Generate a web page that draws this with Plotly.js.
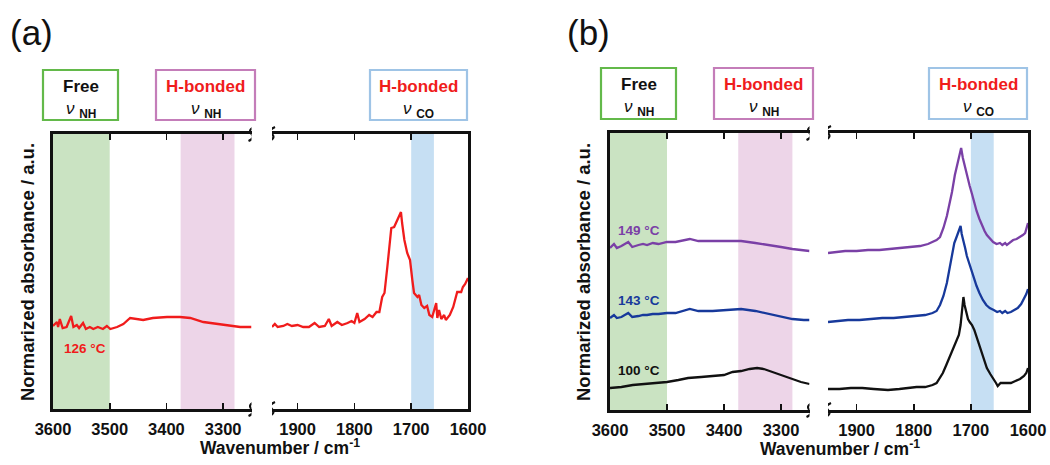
<!DOCTYPE html>
<html><head><meta charset="utf-8">
<script src="https://cdn.plot.ly/plotly-3.0.1.min.js"></script>
<style>html,body{margin:0;padding:0;background:#fff}#chart{width:1050px;height:465px}</style>
</head><body><div id="chart"></div>
<script>
// Tick positions (cm-1) for the two wavenumber windows
const ticksNH = [3600, 3500, 3400, 3300];
const ticksCO = [1900, 1800, 1700, 1600];

// Band assignments (cm-1)
const bandFreeNH = [3600, 3500];
const bandHbNH = [3375, 3280];
const bandHbCO = [1700, 1660];

// (a) 126 °C spectrum, N-H window
const wnA_NH = [3600,3598,3593,3591,3588,3583,3576,3568,3564,3558,3554,3547,3542,3535,3529,3521,3512,3505,3499,3487,3476,3464,3452,3441,3424,3399,3376,3358,3335,3311,3288,3270,3250];
const abs126_NH = [0.83,0.84,0.87,0.82,0.90,0.81,0.82,0.93,0.82,0.84,0.81,0.86,0.80,0.82,0.80,0.82,0.80,0.83,0.80,0.82,0.85,0.91,0.90,0.89,0.91,0.92,0.92,0.91,0.87,0.85,0.83,0.82,0.82];

// (a) 126 °C spectrum, C=O window
const wnA_CO = [1945,1940,1935,1925,1918,1910,1900,1890,1880,1870,1862,1852,1845,1840,1830,1822,1812,1805,1800,1795,1791,1782,1774,1768,1761,1756,1751,1747,1742,1735,1730,1727,1723,1718,1716,1712,1707,1702,1698,1695,1689,1686,1682,1677,1672,1668,1663,1656,1654,1651,1647,1642,1639,1632,1626,1619,1612,1609,1605,1600];
const abs126_CO = [0.82,0.85,0.82,0.83,0.85,0.83,0.84,0.82,0.82,0.86,0.82,0.83,0.90,0.83,0.87,0.84,0.86,0.88,0.86,0.96,0.87,0.90,0.94,0.92,0.97,0.97,1.12,1.16,1.42,1.81,1.82,1.86,1.91,1.97,1.86,1.69,1.56,1.49,1.29,1.16,1.12,1.14,1.04,1.01,1.03,0.94,0.92,1.06,0.91,0.99,0.90,0.94,0.89,0.94,1.02,1.17,1.17,1.22,1.25,1.31];

// (b) N-H window
const wnB_NH = [3600,3593,3588,3580,3568,3561,3550,3542,3535,3525,3515,3500,3485,3470,3460,3445,3420,3395,3370,3345,3320,3300,3280,3260,3250];
const abs149_NH = [1.61,1.65,1.61,1.63,1.67,1.62,1.64,1.65,1.64,1.66,1.65,1.67,1.67,1.69,1.70,1.68,1.68,1.68,1.68,1.66,1.64,1.62,1.60,1.59,1.58];
const abs143_NH = [0.91,0.94,0.91,0.92,0.96,0.92,0.93,0.94,0.94,0.95,0.95,0.96,0.96,0.98,1.00,0.98,0.98,0.99,1.00,0.98,0.95,0.92,0.90,0.89,0.89];
const wnB100_NH = [3600,3580,3560,3540,3520,3500,3480,3463,3440,3420,3400,3385,3370,3355,3342,3330,3315,3300,3280,3265,3250];
const abs100_NH = [0.21,0.22,0.24,0.25,0.26,0.27,0.29,0.31,0.32,0.33,0.34,0.37,0.38,0.40,0.41,0.40,0.37,0.34,0.30,0.27,0.25];

// (b) C=O window
const wnB149_CO = [1950,1935,1920,1900,1880,1860,1845,1825,1805,1789,1775,1767,1760,1754,1748,1742,1737,1733,1728,1723,1719,1717,1714,1711,1707,1702,1698,1694,1690,1685,1681,1676,1672,1666,1661,1655,1649,1645,1640,1637,1630,1626,1620,1614,1609,1605,1602,1600];
const abs149_CO = [1.56,1.57,1.58,1.58,1.59,1.59,1.60,1.61,1.62,1.63,1.65,1.67,1.69,1.72,1.81,1.93,2.06,2.17,2.34,2.47,2.57,2.61,2.51,2.44,2.32,2.23,2.15,2.06,1.98,1.90,1.84,1.78,1.74,1.70,1.67,1.65,1.66,1.64,1.66,1.64,1.67,1.69,1.70,1.72,1.74,1.76,1.81,1.86];
const wnB143_CO = [1950,1935,1915,1895,1875,1855,1835,1815,1795,1780,1767,1760,1754,1748,1742,1737,1733,1729,1725,1721,1718,1716,1714,1710,1707,1702,1698,1694,1690,1685,1679,1673,1667,1660,1654,1649,1645,1640,1636,1630,1624,1618,1612,1607,1603,1600];
const abs143_CO = [0.87,0.88,0.89,0.89,0.90,0.91,0.91,0.92,0.93,0.94,0.96,0.98,1.04,1.13,1.26,1.41,1.56,1.66,1.72,1.78,1.83,1.75,1.71,1.61,1.53,1.44,1.37,1.30,1.23,1.16,1.09,1.04,1.01,0.99,0.97,0.98,0.96,0.98,0.96,0.97,0.99,1.01,1.05,1.10,1.15,1.20];
const wnB100_CO = [1950,1930,1910,1890,1870,1845,1825,1810,1795,1780,1767,1760,1754,1749,1743,1737,1732,1728,1724,1721,1718,1716,1713,1711,1708,1705,1702,1698,1694,1690,1684,1678,1672,1666,1661,1656,1653,1648,1640,1630,1622,1614,1607,1603,1600];
const abs100_CO = [0.20,0.20,0.21,0.21,0.20,0.19,0.20,0.21,0.22,0.22,0.24,0.26,0.31,0.36,0.44,0.52,0.60,0.64,0.69,0.74,0.84,0.94,1.12,1.04,0.96,0.90,0.87,0.84,0.79,0.72,0.61,0.51,0.41,0.35,0.31,0.26,0.23,0.26,0.26,0.26,0.28,0.30,0.33,0.36,0.41];

const W = 1050, H = 465;
const fx = px => px / W;
const fy = py => 1 - py / H;

const FONT = 'Liberation Sans, Arial, Helvetica, sans-serif';
const RED = '#f01c1c', PURPLE = '#7a40a6', BLUE = '#17399b', BLACK = '#111111';
const SHADE = {green: '#cae3c2', pink: '#edd5e8', blue: '#c6dff3'};
const BOX = {green: '#63b94a', pink: '#c47db9', blue: '#9fc4e6'};

function line(x, y, color, xa, ya) {
  return {x: x, y: y, type: 'scatter', mode: 'lines', xaxis: xa, yaxis: ya,
    line: {color: color, width: 2.3}, hoverinfo: 'skip', showlegend: false};
}

const traces = [
  line(wnA_NH, abs126_NH, RED, 'x', 'y'),
  line(wnA_CO, abs126_CO, RED, 'x2', 'y2'),
  line(wnB_NH, abs149_NH, PURPLE, 'x3', 'y3'),
  line(wnB_NH, abs143_NH, BLUE, 'x3', 'y3'),
  line(wnB100_NH, abs100_NH, BLACK, 'x3', 'y3'),
  line(wnB149_CO, abs149_CO, PURPLE, 'x4', 'y4'),
  line(wnB143_CO, abs143_CO, BLUE, 'x4', 'y4'),
  line(wnB100_CO, abs100_CO, BLACK, 'x4', 'y4')
];

function xAxis(d0, d1, range, ticks, anchor) {
  return {
    domain: [fx(d0), fx(d1)], range: range, anchor: anchor,
    tickmode: 'array', tickvals: ticks, ticktext: ticks.map(String),
    ticks: 'inside', ticklen: 6, tickwidth: 1.6, tickcolor: '#111',
    showline: true, linewidth: 2.8, linecolor: '#111', mirror: 'ticks',
    showgrid: false, zeroline: false, ticklabelstandoff: 3,
    tickfont: {family: FONT, size: 16.5, weight: 'bold', color: '#111'}
  };
}
function yAxis(t, b, range, anchor, side) {
  return {
    domain: [fy(b), fy(t)], range: range, anchor: anchor, side: side,
    showline: true, linewidth: 2.8, linecolor: '#111', mirror: false,
    ticks: '', showticklabels: false, showgrid: false, zeroline: false
  };
}

const shapes = [];
function band(xref, yref, range, color) {
  shapes.push({type: 'rect', xref: xref, yref: yref + ' domain', x0: range[0], x1: range[1],
    y0: 0, y1: 1, fillcolor: color, line: {width: 0}, layer: 'below'});
}
band('x', 'y', bandFreeNH, SHADE.green);
band('x', 'y', bandHbNH, SHADE.pink);
band('x2', 'y2', bandHbCO, SHADE.blue);
band('x3', 'y3', bandFreeNH, SHADE.green);
band('x3', 'y3', bandHbNH, SHADE.pink);
band('x4', 'y4', bandHbCO, SHADE.blue);

// axis-break squiggles at the ends of each window
function brk(xref, yref, xv, yv) {
  shapes.push({type: 'path', xref: xref, yref: yref + ' domain', xsizemode: 'pixel', ysizemode: 'pixel',
    xanchor: xv, yanchor: yv, path: 'M 3 7 Q -4 4 0 0 Q 4 -4 -3 -7',
    line: {color: '#111', width: 2.2}});
}
[['x','y',3250],['x2','y2',1945],['x3','y3',3250],['x4','y4',1950]].forEach(b => {
  brk(b[0], b[1], b[2], 0); brk(b[0], b[1], b[2], 1);
});

const annotations = [];
function txt(text, px, py, size, color, opts) {
  annotations.push(Object.assign({text: text, x: fx(px), y: fy(py), xref: 'paper', yref: 'paper',
    showarrow: false, xanchor: 'center', yanchor: 'middle',
    font: {family: FONT, size: size, color: color, weight: 'bold'}}, opts || {}));
}
// band label boxes
function labelBox(x0, y0, x1, y1, border, title, titleColor, sub) {
  shapes.push({type: 'rect', xref: 'paper', yref: 'paper', x0: fx(x0), x1: fx(x1), y0: fy(y1), y1: fy(y0),
    line: {color: border, width: 2.2}, fillcolor: 'rgba(0,0,0,0)'});
  const cx = (x0 + x1) / 2;
  txt('<b>' + title + '</b>', cx, y0 + 16.5, 17, titleColor);
  annotations.push({text: '<i>ν</i> <b><sub>' + sub + '</sub></b>', x: fx(cx), y: fy(y0 + 40),
    xref: 'paper', yref: 'paper', showarrow: false, xanchor: 'center', yanchor: 'middle',
    font: {family: FONT, size: 17, color: '#111'}});
}
labelBox(43, 70, 118, 120, BOX.green, 'Free', '#111', 'NH');
labelBox(156, 70, 255, 120, BOX.pink, 'H-bonded', RED, 'NH');
labelBox(370, 70, 467, 120, BOX.blue, 'H-bonded', RED, 'CO');
labelBox(601, 68, 676, 119, BOX.green, 'Free', '#111', 'NH');
labelBox(714, 68, 813, 119, BOX.pink, 'H-bonded', RED, 'NH');
labelBox(929, 68, 1027, 119, BOX.blue, 'H-bonded', RED, 'CO');

// panel letters
txt('(a)', 31, 33, 35, '#111', {font: {family: FONT, size: 35, color: '#111', weight: 'normal'}});
txt('(b)', 588, 32, 35, '#111', {font: {family: FONT, size: 35, color: '#111', weight: 'normal'}});

// axis titles
const yTitle = '<b>Normarized absorbance / a.u.</b>';
txt(yTitle, 27, 272, 18.5, '#111', {textangle: -90});
txt(yTitle, 583, 272, 18.5, '#111', {textangle: -90});
const xTitle = '<b>Wavenumber / cm<sup>-1</sup></b>';
txt(xTitle, 280, 447, 17.5, '#111');
txt(xTitle, 840, 448, 17.5, '#111');

// temperature labels
txt('<b>126 °C</b>', 62, 348, 13.5, RED, {xanchor: 'left'});
txt('<b>149 °C</b>', 616, 230, 13.5, PURPLE, {xanchor: 'left'});
txt('<b>143 °C</b>', 616, 300, 13.5, BLUE, {xanchor: 'left'});
txt('<b>100 °C</b>', 616, 370, 13.5, BLACK, {xanchor: 'left'});

const layout = {
  width: W, height: H, margin: {l: 0, r: 0, t: 0, b: 0},
  paper_bgcolor: '#fff', plot_bgcolor: 'rgba(0,0,0,0)', showlegend: false,
  xaxis: xAxis(53, 251.5, [3600, 3250], ticksNH, 'y'),
  xaxis2: xAxis(272, 468, [1945, 1600], ticksCO, 'y2'),
  xaxis3: xAxis(610, 809.5, [3600, 3250], ticksNH, 'y3'),
  xaxis4: xAxis(828, 1028, [1950, 1600], ticksCO, 'y4'),
  yaxis: yAxis(134, 409, [0, 2.75], 'x', 'left'),
  yaxis2: yAxis(134, 409, [0, 2.75], 'x2', 'right'),
  yaxis3: yAxis(133, 410, [-0.01, 2.76], 'x3', 'left'),
  yaxis4: yAxis(133, 410, [-0.01, 2.76], 'x4', 'right'),
  shapes: shapes, annotations: annotations
};

Plotly.newPlot('chart', traces, layout, {staticPlot: true, displayModeBar: false});
</script>
</body></html>
